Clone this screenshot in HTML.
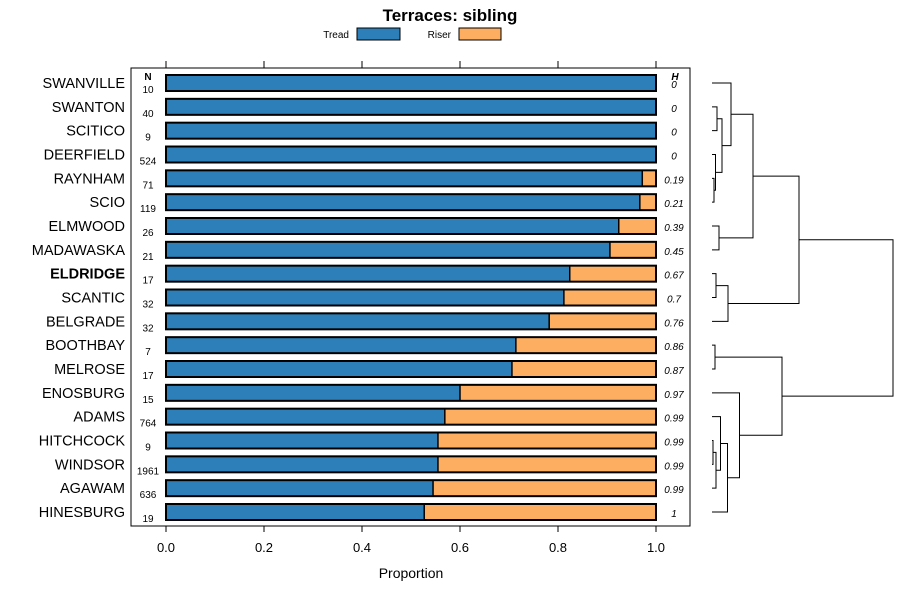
<!DOCTYPE html>
<html><head><meta charset="utf-8"><style>
body{margin:0;background:#fff;}
svg{font-family:"Liberation Sans",sans-serif;}
</style></head><body>
<svg id="c" width="900" height="600" xmlns="http://www.w3.org/2000/svg">
<text x="450" y="21" text-anchor="middle" font-size="17" font-weight="bold">Terraces: sibling</text>
<g>
<text x="349" y="38" text-anchor="end" font-size="10">Tread</text>
<rect x="357" y="28" width="43" height="12" fill="#2c7fb8" stroke="#000"/>
<text x="451" y="38" text-anchor="end" font-size="10">Riser</text>
<rect x="459" y="28" width="42" height="12" fill="#feae61" stroke="#000"/>
</g>
<rect x="131" y="68" width="559" height="458" fill="none" stroke="#000"/>
<text x="148" y="80" text-anchor="middle" font-size="10" font-weight="bold">N</text>
<text x="675" y="80" text-anchor="middle" font-size="10" font-weight="bold" font-style="italic">H</text>
<text x="411" y="578" text-anchor="middle" font-size="14">Proportion</text>
<g id="g"></g>
</svg>
<script>
const names=["SWANVILLE","SWANTON","SCITICO","DEERFIELD","RAYNHAM","SCIO","ELMWOOD","MADAWASKA","ELDRIDGE","SCANTIC","BELGRADE","BOOTHBAY","MELROSE","ENOSBURG","ADAMS","HITCHCOCK","WINDSOR","AGAWAM","HINESBURG"];
const tread=[1,1,1,1,0.972,0.967,0.924,0.906,0.824,0.812,0.782,0.714,0.706,0.6,0.569,0.555,0.555,0.545,0.527];
const counts=[10,40,9,524,71,119,26,21,17,32,32,7,17,15,764,9,1961,636,19];
const hvals=["0","0","0","0","0.19","0.21","0.39","0.45","0.67","0.7","0.76","0.86","0.87","0.97","0.99","0.99","0.99","0.99","1"];
const ticks=[0,0.2,0.4,0.6,0.8,1];
const tickLabels=["0.0","0.2","0.4","0.6","0.8","1.0"];
const merges=[[-5,-6,2],[-2,-3,5],[-4,1,3.5],[2,3,10],[-1,4,19],[-7,-8,7],[5,6,41],[-9,-10,4],[8,-11,16],[7,9,87],[-12,-13,3],[-16,-17,1],[12,-18,4],[-15,13,8.5],[14,-19,15.5],[-14,15,27.5],[11,16,70],[10,17,181]];
const NS="http://www.w3.org/2000/svg";
const g=document.getElementById('g');
const x=v=>166+v*490;
const y=i=>83+i*(512-83)/18;
const dx=h=>712+h;
function mk(t,a){const e=document.createElementNS(NS,t);for(const k in a)e.setAttribute(k,a[k]);g.appendChild(e);return e;}
ticks.forEach((t,i)=>{
 let e=mk('line',{x1:x(t),x2:x(t),y1:526,y2:532,stroke:'#000'});
 
 
 e=mk('line',{x1:x(t),x2:x(t),y1:61,y2:68,stroke:'#000'});
 
 
 e=mk('text',{x:x(t),y:552,'text-anchor':'middle','font-size':13});e.textContent=tickLabels[i];
 
 
});
names.forEach((n,i)=>{
 const cy=y(i);
 let e=mk('text',{x:125,y:cy+5,'text-anchor':'end','font-size':14.5,'font-weight':n==='ELDRIDGE'?'bold':'normal'});e.textContent=n;
 
 
 e=mk('rect',{x:x(0),y:cy-8,width:x(tread[i])-x(0),height:16,fill:'#2c7fb8'});
 
 
 e=mk('rect',{x:x(tread[i]),y:cy-8,width:x(1)-x(tread[i]),height:16,fill:'#feae61'});
 
 
 e=mk('line',{x1:x(tread[i]),x2:x(tread[i]),y1:cy-8,y2:cy+8,stroke:'#000','stroke-width':1.5});
 
 
 e=mk('rect',{x:x(0),y:cy-8,width:x(1)-x(0),height:16,fill:'none',stroke:'#000','stroke-width':2});
 
 
 e=mk('text',{x:148,y:cy+10,'text-anchor':'middle','font-size':10});e.textContent=counts[i];
 
 
 e=mk('text',{x:674,y:cy+5,'text-anchor':'middle','font-size':10,'font-style':'italic'});e.textContent=hvals[i];
 
 
});
const pos=[];
function node(k){if(k<0)return{y:y(-k-1),h:0};return pos[k-1];}
merges.forEach(m=>{
 const a=node(m[0]),b=node(m[1]);
 const e=mk('path',{d:`M${dx(a.h)},${a.y}H${dx(m[2])}V${b.y}H${dx(b.h)}`,fill:'none',stroke:'#000','stroke-width':1});
 
 
 pos.push({y:(a.y+b.y)/2,h:m[2]});
});
</script>
</body></html>
